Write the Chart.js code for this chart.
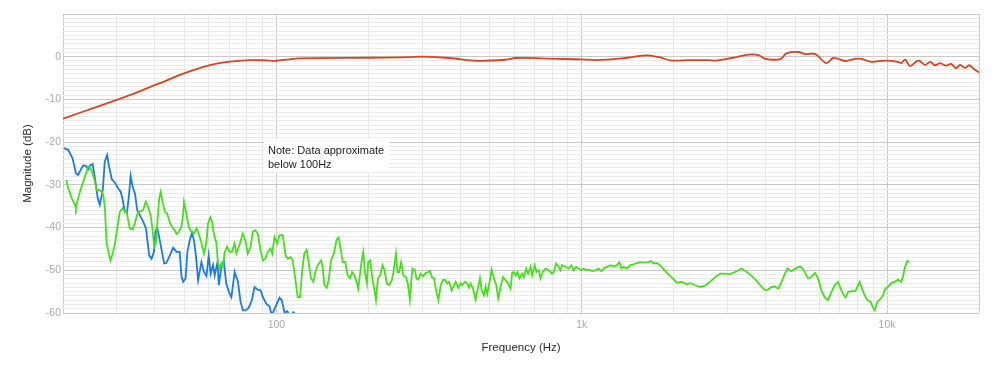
<!DOCTYPE html>
<html><head><meta charset="utf-8">
<script src="https://cdn.jsdelivr.net/npm/chart.js@4.4.1/dist/chart.umd.min.js"></script>
<style>html,body{margin:0;padding:0;background:#fff}#wrap{width:1000px;height:381px;position:relative}</style>
</head><body><div id="wrap"><canvas id="c" width="1000" height="381"></canvas></div>
<script>
// ---- data (frequency in Hz, magnitude in dB) ----
const redFreq = [20, 26.4, 30.0, 34.0, 38.5, 43.6, 49.3, 56.1, 63.6, 72.0,
  81.7, 92.6, 100, 110, 119, 201, 253, 300, 368, 451,
  565, 609, 823, 1000, 1112, 1352, 1620, 1787, 1970, 2238,
  2414, 2602, 2744, 3094, 3518, 3791, 3996, 4474, 4681, 5122,
  5400, 5822, 6324, 6668, 7298, 7866, 8230, 8872, 9860, 10873,
  11118, 11460, 11900, 12640, 13322, 13834, 14364, 14914, 15604, 16202,
  16822, 17338, 18000, 18552, 19118, 20000];
const redDb = [-14.5, -11.5, -10.1, -8.7, -7.1, -5.6, -4.0, -2.65, -1.6, -1.1,
  -0.8, -0.85, -0.95, -0.6, -0.4, -0.24, -0.15, 0, -0.3, -0.95,
  -0.7, -0.3, -0.5, -0.6, -0.8, -0.4, 0.3, -0.1, -0.9, -0.8,
  -0.8, -0.8, -0.9, -0.3, 0.5, 0.4, -0.5, -0.55, 0.8, 1.1,
  0.6, 0.6, -1.5, -0.3, -1.0, -0.5, -0.5, -1.2, -0.9, -1.2,
  -1.5, -0.7, -2.2, -0.9, -1.9, -1.2, -2.0, -1.5, -2.1, -1.7,
  -2.7, -1.9, -2.6, -2.0, -2.7, -3.7];

const blueFreq = [20.15, 20.8, 21.5, 22.05, 22.4, 22.85, 23.3, 23.8, 24.2, 24.6,
  25.0, 25.4, 26.0, 26.4, 27.0, 27.4, 27.9, 28.3, 28.9, 29.6,
  30.3, 30.9, 31.3, 31.9, 32.4, 32.9, 33.3, 33.8, 34.4, 35.0,
  35.7, 36.6, 37.4, 37.8, 38.3, 39.0, 39.7, 40.2, 40.7, 41.5,
  42.4, 42.9, 43.6, 44.5, 45.9, 47.1, 48.2, 48.9, 49.5, 50.4,
  51.1, 52.0, 52.9, 53.7, 54.4, 55.4, 56.8, 57.9, 59.0, 60.0,
  60.9, 62.0, 62.8, 64.1, 64.8, 66.0, 67.2, 68.5, 69.9, 71.2,
  73.0, 74.8, 76.3, 77.7, 79.1, 81.1, 83.1, 84.8, 86.5, 88.7,
  90.3, 92.6, 94.9, 96.6, 99.8, 102.4, 104.1, 106.3, 108.5, 111.2,
  113.7, 116.3];
const blueDb = [-21.4, -21.8, -23.8, -27.3, -27.7, -26.5, -25.4, -25.6, -26.4, -25.4,
  -25.1, -28.1, -33.2, -34.7, -31.2, -24.6, -23.0, -25.7, -28.7, -29.5,
  -30.8, -31.6, -33.2, -36.3, -36.5, -32.4, -27.9, -30.4, -32.0, -35.9,
  -37.1, -38.6, -40.2, -43.0, -46.5, -47.3, -45.7, -40.8, -40.0, -43.0,
  -46.5, -48.4, -48.3, -46.9, -44.7, -45.7, -45.7, -51.6, -52.7, -51.9,
  -45.7, -43.0, -41.2, -43.0, -46.1, -52.3, -48.1, -50.4, -51.4, -46.5,
  -50.8, -48.8, -51.2, -48.1, -53.5, -49.2, -47.7, -53.1, -55.1, -56.3,
  -50.4, -52.7, -57.4, -59.4, -59.4, -58.8, -57.0, -53.9, -54.5, -54.7,
  -56.3, -57.8, -58.5, -60.5, -58.2, -56.4, -57.0, -59.9, -59.6, -61.0,
  -59.8, -60.5];

const greenFreq = [20.5, 20.8, 21.4, 21.9, 22.05, 22.4, 23.0, 23.6, 24.2, 24.6,
  25.0, 25.45, 25.8, 26.3, 26.8, 27.1, 27.4, 27.8, 28.1, 28.6,
  29.1, 29.6, 30.1, 30.7, 31.3, 31.9, 32.3, 32.7, 33.1, 33.8,
  34.4, 35.0, 35.7, 36.6, 37.3, 38.0, 38.7, 39.3, 39.8, 40.3,
  40.8, 41.3, 41.8, 42.35, 43.1, 43.85, 44.7, 45.65, 46.5, 47.05,
  47.9, 48.85, 49.4, 49.8, 50.7, 51.6, 52.6, 53.7, 54.7, 55.6,
  56.7, 57.9, 59.0, 59.7, 60.8, 61.5, 62.4, 63.6, 64.3, 65.2,
  66.0, 66.8, 67.7, 69.0, 70.3, 71.5, 72.95, 73.9, 75.7, 77.6,
  79.1, 80.6, 82.3, 83.7, 85.2, 86.9, 88.7, 90.3, 91.9, 93.7,
  95.6, 96.9, 98.6, 100.6, 102.3, 104.9, 107.1, 109.0, 111.2, 113.1,
  115.1, 117.4, 119.5, 121.3, 123.4, 125.6, 127.5, 129.8, 132.2, 134.2,
  136.5, 140.1, 141.7, 143.6, 146.1, 148.3, 151.0, 154.7, 157.5, 159.8,
  161.5, 164.8, 168.1, 171.1, 174.2, 176.8, 179.9, 183.1, 185.4, 188.2,
  190.6, 192.5, 194.9, 197.9, 199.8, 202.8, 206.5, 209.1, 211.8, 215.0,
  218.8, 222.5, 225.9, 230.0, 234.0, 238.8, 241.7, 246.2, 249.1, 252.4,
  256.2, 260.6, 265.4, 269.4, 273.5, 278.8, 284.5, 287.4, 291.7, 297.0,
  302.3, 308.5, 314.6, 318.6, 322.7, 328.3, 332.5, 339.2, 345.3, 351.3,
  356.6, 362.9, 367.6, 375.1, 381.6, 386.5, 394.2, 401.3, 406.2, 414.5,
  421.8, 427.2, 432.7, 440.2, 449.2, 456.9, 464.0, 470.0, 478.3, 484.4,
  490.3, 499.2, 506.8, 515.6, 524.8, 532.6, 542.2, 551.7, 562.9, 574.2,
  584.5, 591.7, 599.3, 607.0, 616.2, 625.5, 637.9, 646.1, 657.5, 667.4,
  679.4, 687.7, 701.7, 710.7, 723.2, 732.5, 745.3, 760.6, 779.7, 799.3,
  809.6, 824.0, 840.6, 851.4, 861.8, 884.0, 906.3, 924.9, 941.1, 957.8,
  977.2, 997.2, 1015, 1033, 1054, 1080, 1108, 1136, 1160, 1180,
  1209, 1241, 1272, 1304, 1328, 1348, 1372, 1406, 1442, 1478,
  1515, 1554, 1594, 1655, 1689, 1719, 1762, 1829, 1899, 1973,
  2048, 2126, 2207, 2264, 2351, 2442, 2536, 2633, 2733, 2838,
  2947, 3060, 3177, 3339, 3467, 3600, 3738, 3881, 3981, 4082,
  4185, 4293, 4401, 4511, 4628, 4720, 4863, 5013, 5180, 5311,
  5514, 5653, 5799, 5945, 6094, 6251, 6409, 6570, 6740, 6910,
  7083, 7302, 7449, 7637, 7872, 8134, 8276, 8446, 8614, 8836,
  8991, 9106, 9287, 9455, 9693, 9865, 10065, 10318, 10584, 10851,
  11124, 11267, 11411, 11638, 11848];
const greenDb = [-28.9, -30.8, -33.2, -34.7, -35.5, -33.2, -30.4, -28.1, -25.7, -26.1,
  -27.3, -29.3, -31.2, -31.2, -31.6, -32.4, -35.1, -43.7, -45.3, -47.7,
  -46.1, -43.7, -40.2, -36.3, -35.5, -36.3, -36.3, -38.3, -40.2, -40.4,
  -39.0, -36.9, -36.3, -35.9, -34.0, -35.1, -37.1, -40.6, -44.5, -43.7,
  -38.3, -33.2, -31.6, -34.0, -36.3, -36.7, -38.7, -40.0, -40.7, -41.5,
  -41.0, -39.8, -37.5, -34.0, -36.7, -39.8, -41.0, -41.4, -40.2, -41.4,
  -43.4, -46.1, -43.4, -39.0, -37.6, -38.7, -41.4, -43.7, -48.1, -49.6,
  -48.4, -49.2, -45.7, -44.5, -45.7, -45.7, -43.7, -46.1, -44.1, -41.4,
  -43.0, -46.1, -44.5, -41.0, -40.6, -41.4, -45.3, -47.7, -47.3, -45.7,
  -44.9, -46.1, -42.2, -43.7, -41.8, -41.8, -46.5, -47.3, -46.9, -47.7,
  -51.6, -56.3, -56.3, -50.5, -46.1, -45.2, -48.1, -51.9, -52.7, -50.4,
  -48.8, -47.7, -49.2, -53.5, -54.1, -52.3, -47.7, -45.7, -42.8, -42.3,
  -44.1, -48.1, -48.1, -51.2, -51.9, -50.4, -51.2, -52.7, -54.3, -50.4,
  -47.3, -45.7, -50.4, -53.1, -48.1, -47.7, -52.3, -54.3, -57.0, -51.9,
  -51.2, -48.8, -50.0, -53.1, -53.5, -52.3, -50.4, -46.1, -50.4, -50.4,
  -48.1, -51.2, -51.6, -53.1, -56.9, -49.6, -50.0, -51.9, -52.2, -50.8,
  -51.4, -50.6, -50.4, -50.2, -51.6, -51.9, -54.3, -57.0, -53.5, -52.3,
  -52.2, -53.1, -52.7, -54.7, -53.5, -52.7, -54.1, -53.0, -53.5, -52.7,
  -53.1, -54.1, -53.1, -54.3, -56.9, -54.3, -51.9, -54.7, -55.9, -53.8,
  -55.6, -52.7, -49.8, -51.9, -53.5, -56.6, -53.9, -51.6, -52.3, -53.1,
  -54.3, -50.6, -50.4, -51.2, -50.4, -51.9, -50.8, -51.6, -49.6, -50.8,
  -49.2, -51.2, -48.8, -50.4, -50.0, -51.9, -50.4, -49.6, -50.0, -50.8,
  -50.4, -48.4, -49.2, -50.0, -48.8, -49.1, -49.6, -48.8, -50.0, -49.2,
  -49.6, -50.0, -49.6, -50.0, -49.8, -50.2, -50.0, -49.6, -50.2, -49.6,
  -49.2, -48.8, -49.1, -48.8, -48.1, -49.6, -49.2, -49.6, -48.8, -48.6,
  -48.3, -48.1, -48.2, -48.1, -47.8, -48.4, -48.3, -49.2, -50.6, -51.7,
  -52.9, -52.7, -53.3, -53.0, -53.5, -53.9, -53.6, -52.7, -51.6, -50.8,
  -50.8, -50.9, -50.4, -49.6, -50.4, -51.3, -52.5, -53.9, -54.7, -54.5,
  -53.9, -53.8, -54.3, -52.7, -50.8, -49.6, -50.2, -49.6, -49.1, -49.8,
  -51.9, -51.6, -50.6, -51.9, -54.7, -56.4, -57.0, -55.1, -53.5, -52.7,
  -54.7, -56.4, -55.1, -54.9, -54.9, -52.7, -54.3, -55.9, -57.0, -57.4,
  -58.8, -59.4, -57.4, -56.9, -55.9, -54.3, -53.9, -53.0, -52.7, -52.2,
  -52.7, -51.6, -49.6, -47.8, -48.1];

const xTickLabels = {100: '100', 1000: '1k', 10000: '10k'};
const yLabelValues = [0, -10, -20, -30, -40, -50, -60];
const noteLines = ['Note: Data approximate', 'below 100Hz'];

// ---- grid tick positions ----
const xGridFreqs = [];
for (const d of [10, 100, 1000, 10000]) for (let m = 1; m <= 9; m++) { const v = d * m; if (v >= 20 && v <= 20000) xGridFreqs.push(v); }
const yGridValues = [];
for (let v = -60; v <= 10; v++) yGridValues.push(v);

const FONT = "'Liberation Sans', Arial, Helvetica, sans-serif";
const pts = (xs, ys) => xs.map((x, i) => ({x, y: ys[i]}));
const MAJOR = '#c9c9c9', MINOR = '#ebebeb', XMINOR = '#e6e6e6';

const notePlugin = {
  id: 'note',
  afterDatasetsDraw(chart) {
    const ctx = chart.ctx;
    const left = chart.chartArea.left + 201, top = chart.chartArea.top + 125;
    ctx.save();
    ctx.fillStyle = '#ffffff';
    ctx.fillRect(left, top, 125, 33);
    ctx.fillStyle = '#1a1a1a';
    ctx.font = '11px ' + FONT;
    ctx.textBaseline = 'middle';
    ctx.textAlign = 'left';
    noteLines.forEach((t, i) => ctx.fillText(t, left + 4, top + 12 + i * 13.6));
    ctx.restore();
  }
};

new Chart(document.getElementById('c'), {
  type: 'line',
  data: {
    datasets: [
      {label: 'Red', data: pts(redFreq, redDb), borderColor: '#d9441f', borderWidth: 1.8, pointRadius: 0, tension: 0.35},
      {label: 'Green', data: pts(greenFreq, greenDb), borderColor: '#45e01a', borderWidth: 1.8, pointRadius: 0, tension: 0},
      {label: 'Blue', data: pts(blueFreq, blueDb), borderColor: '#1a7ae6', borderWidth: 1.8, pointRadius: 0, tension: 0}
    ]
  },
  options: {
    responsive: false,
    animation: false,
    devicePixelRatio: 1,
    layout: {padding: {top: 14, right: 21, left: 0, bottom: 0}},
    plugins: {legend: {display: false}, tooltip: {enabled: false}},
    scales: {
      x: {
        type: 'logarithmic', min: 20, max: 20000,
        afterBuildTicks: s => { s.ticks = xGridFreqs.map(v => ({value: v})); },
        afterFit: s => { s.height = 68; },
        ticks: {autoSkip: false, maxRotation: 0, minRotation: 0, padding: 6, color: '#a9a9a9',
          font: {family: FONT, size: 10.5}, callback: v => xTickLabels[v] ?? ''},
        grid: {drawTicks: false, lineWidth: 1,
          color: c => { const v = c.tick && c.tick.value; return (v === 20 || v === 20000 || v === 100 || v === 1000 || v === 10000) ? MAJOR : XMINOR; }},
        border: {display: false},
        title: {display: true, text: 'Frequency (Hz)', color: '#2a2a2a', font: {family: FONT, size: 11.5}, padding: {top: 0, bottom: 26}}
      },
      y: {
        type: 'linear', min: -60, max: 10,
        afterBuildTicks: s => { s.ticks = yGridValues.map(v => ({value: v})); },
        afterFit: s => { s.width = 63; },
        ticks: {autoSkip: false, padding: 2, color: '#a9a9a9', font: {family: FONT, size: 10.5},
          callback: v => yLabelValues.includes(v) ? String(v) : ''},
        grid: {drawTicks: false, lineWidth: 1,
          color: c => { const v = c.tick && c.tick.value; return (v % 10 === 0) ? MAJOR : MINOR; }},
        border: {display: false},
        title: {display: true, text: 'Magnitude (dB)', color: '#2a2a2a', font: {family: FONT, size: 11.5}, padding: {top: 21.4, bottom: 0}}
      }
    }
  },
  plugins: [notePlugin]
});
</script></body></html>
